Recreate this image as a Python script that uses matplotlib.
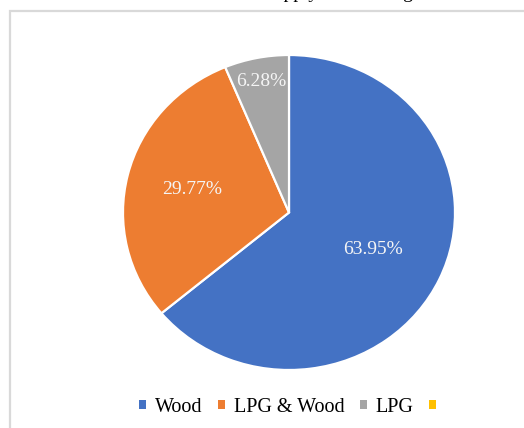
import numpy as np
import matplotlib.pyplot as plt
from matplotlib.patches import Rectangle, Patch

plt.rcParams["font.family"] = ["Liberation Serif", "DejaVu Serif"]

# Fuel shares (%)
categories = ["Wood", "LPG & Wood", "LPG", ""]
shares = [63.95, 29.77, 6.28, 0.0]
colors = ["#4472C4", "#ED7D31", "#A5A5A5", "#FFC000"]
label_dist = [0.56, 0.60, 0.85, 0.0]

W, H = 524, 428
fig = plt.figure(figsize=(W / 100, H / 100), dpi=100)

# outer chart frame (runs off the right and bottom edges)
fig.patches.append(Rectangle((10 / W, -0.1), 1.2, (H - 11) / H + 0.1,
                             transform=fig.transFigure, fill=False,
                             edgecolor="#d9d9d9", linewidth=1.6))

# title sits mostly above the visible area
fig.text(0.535, 1 + 2 / H, "Fuel used before supply of natural gas",
         ha="center", va="baseline", fontsize=14)

cx, cy, rx, ry = 289, 212.5, 166, 157.5
ax = fig.add_axes([(cx - rx) / W, (H - cy - ry) / H, 2 * rx / W, 2 * ry / H])

keep = [i for i, v in enumerate(shares) if v > 0]
wedges, _ = ax.pie([shares[i] for i in keep], colors=[colors[i] for i in keep],
                   startangle=90, counterclock=False, radius=1,
                   wedgeprops=dict(edgecolor="white", linewidth=1.6))
ax.set_aspect("auto")
ax.set_xlim(-1, 1)
ax.set_ylim(-1, 1)

for w, i in zip(wedges, keep):
    mid = np.deg2rad((w.theta1 + w.theta2) / 2)
    d = label_dist[i]
    ax.text(d * np.cos(mid), d * np.sin(mid), f"{shares[i]:.2f}%",
            ha="center", va="center", color="#f5f5f5", fontsize=14)

handles = [Patch(facecolor=c, edgecolor="none") for c in colors]
fig.legend(handles, categories, loc="center", bbox_to_anchor=(292 / W, 1 - 407 / H),
           ncol=4, frameon=False, fontsize=14.5, handlelength=0.35, handleheight=0.35,
           handletextpad=0.45, columnspacing=0.75)

fig.savefig("out.png", dpi=100)
